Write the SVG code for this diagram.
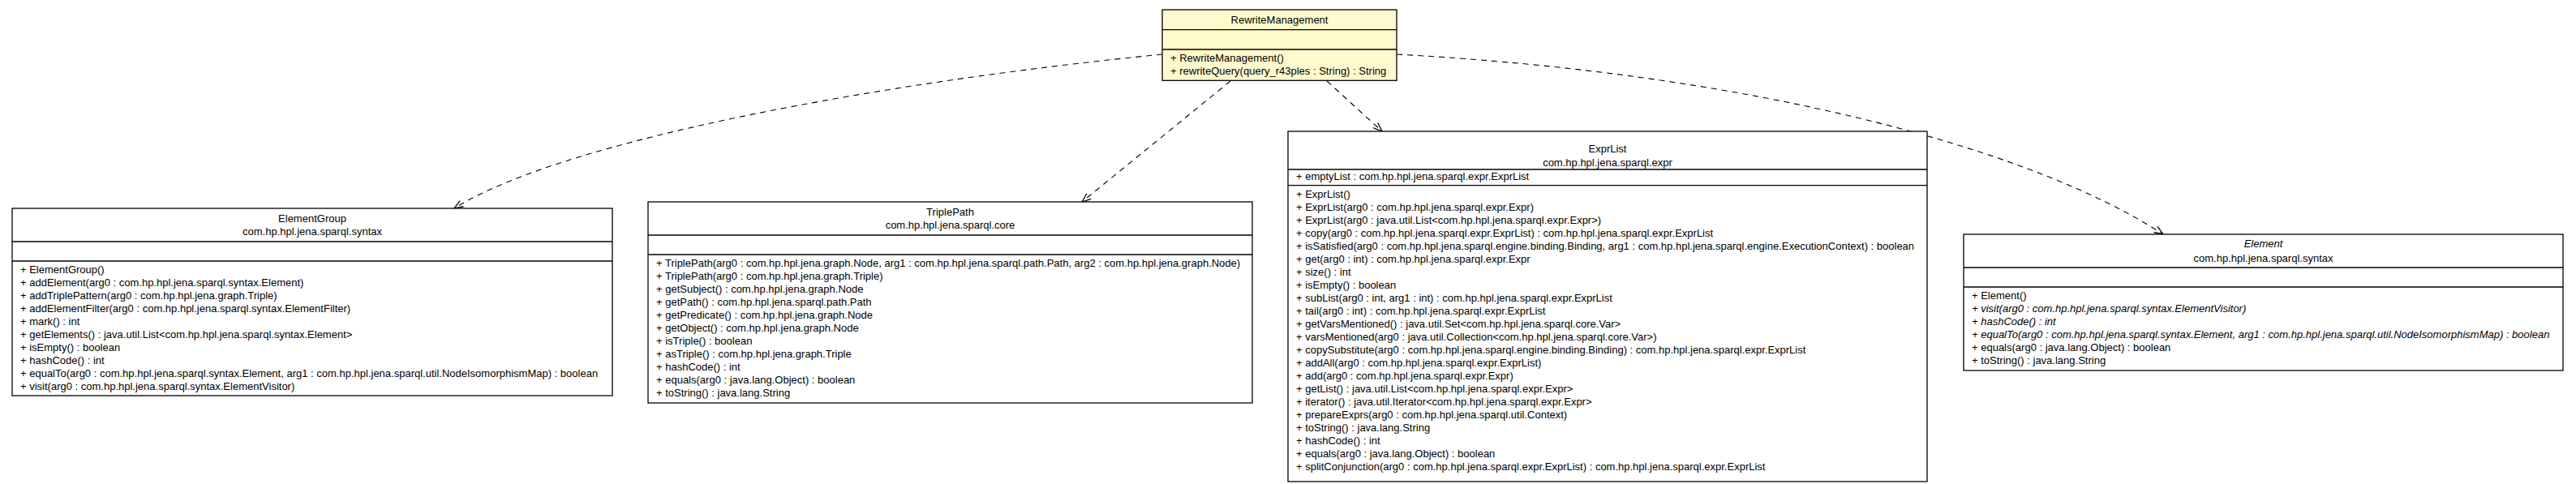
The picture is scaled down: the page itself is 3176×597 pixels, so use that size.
<svg xmlns="http://www.w3.org/2000/svg" width="3176" height="597" viewBox="0 0 3176 597">
<defs>
<style>
.box{fill:#ffffff;stroke:#000000;stroke-width:1.3}
.focus{fill:#fffacd;stroke:#000000;stroke-width:1.3}
.div{stroke:#000000;stroke-width:1.3}
text{font-family:"Liberation Sans",Arial,Helvetica,sans-serif;font-size:13px;fill:#000000}
.c{text-anchor:middle}
.i{font-style:italic}
.dep{fill:none;stroke:#000000;stroke-width:1.1;stroke-dasharray:7,6;marker-end:url(#open)}
</style>
<marker id="open" viewBox="0 0 12 10" refX="11.5" refY="5" markerWidth="12" markerHeight="10" markerUnits="userSpaceOnUse" orient="auto">
<path d="M0.5,0.8 L11.5,5 L0.5,9.2" fill="none" stroke="#000000" stroke-width="1.3"/>
</marker>
</defs>
<rect width="3176" height="597" fill="#ffffff"/>

<g id="connectors">
<path class="dep" d="M1433,67 C1100,100 700,170 560,257"/>
<path class="dep" d="M1517,100 L1334,249"/>
<path class="dep" d="M1636,100 L1704,162"/>
<path class="dep" d="M1722,67 C2150,90 2500,180 2667,289"/>
</g>

<g id="RewriteManagement">
<rect class="focus" x="1433" y="12" width="289" height="87.3"/>
<line class="div" x1="1433" y1="36.7" x2="1722" y2="36.7"/>
<line class="div" x1="1433" y1="61" x2="1722" y2="61"/>
<text class="c" x="1577.5" y="28.6">RewriteManagement</text>
<text x="1443" y="75.6">+ RewriteManagement()</text>
<text x="1443" y="91.9">+ rewriteQuery(query_r43ples : String) : String</text>
</g>

<g id="ElementGroup">
<rect class="box" x="15" y="257" width="740" height="231"/>
<line class="div" x1="15" y1="298" x2="755" y2="298"/>
<line class="div" x1="15" y1="322" x2="755" y2="322"/>
<text class="c" x="385" y="273.6">ElementGroup</text>
<text class="c" x="385" y="289.6">com.hp.hpl.jena.sparql.syntax</text>
<text x="25" y="336.6">+ ElementGroup()</text>
<text x="25" y="352.6">+ addElement(arg0 : com.hp.hpl.jena.sparql.syntax.Element)</text>
<text x="25" y="368.6">+ addTriplePattern(arg0 : com.hp.hpl.jena.graph.Triple)</text>
<text x="25" y="384.6">+ addElementFilter(arg0 : com.hp.hpl.jena.sparql.syntax.ElementFilter)</text>
<text x="25" y="400.6">+ mark() : int</text>
<text x="25" y="416.6">+ getElements() : java.util.List&lt;com.hp.hpl.jena.sparql.syntax.Element&gt;</text>
<text x="25" y="432.6">+ isEmpty() : boolean</text>
<text x="25" y="448.6">+ hashCode() : int</text>
<text x="25" y="464.6">+ equalTo(arg0 : com.hp.hpl.jena.sparql.syntax.Element, arg1 : com.hp.hpl.jena.sparql.util.NodeIsomorphismMap) : boolean</text>
<text x="25" y="480.6">+ visit(arg0 : com.hp.hpl.jena.sparql.syntax.ElementVisitor)</text>
</g>

<g id="TriplePath">
<rect class="box" x="799" y="249" width="745" height="248"/>
<line class="div" x1="799" y1="290" x2="1544" y2="290"/>
<line class="div" x1="799" y1="314" x2="1544" y2="314"/>
<text class="c" x="1171.5" y="266.3">TriplePath</text>
<text class="c" x="1171.5" y="281.5">com.hp.hpl.jena.sparql.core</text>
<text x="809" y="329">+ TriplePath(arg0 : com.hp.hpl.jena.graph.Node, arg1 : com.hp.hpl.jena.sparql.path.Path, arg2 : com.hp.hpl.jena.graph.Node)</text>
<text x="809" y="345">+ TriplePath(arg0 : com.hp.hpl.jena.graph.Triple)</text>
<text x="809" y="361">+ getSubject() : com.hp.hpl.jena.graph.Node</text>
<text x="809" y="377">+ getPath() : com.hp.hpl.jena.sparql.path.Path</text>
<text x="809" y="393">+ getPredicate() : com.hp.hpl.jena.graph.Node</text>
<text x="809" y="409">+ getObject() : com.hp.hpl.jena.graph.Node</text>
<text x="809" y="425">+ isTriple() : boolean</text>
<text x="809" y="441">+ asTriple() : com.hp.hpl.jena.graph.Triple</text>
<text x="809" y="457">+ hashCode() : int</text>
<text x="809" y="473">+ equals(arg0 : java.lang.Object) : boolean</text>
<text x="809" y="489">+ toString() : java.lang.String</text>
</g>

<g id="ExprList">
<rect class="box" x="1588" y="162" width="788" height="432"/>
<line class="div" x1="1588" y1="209" x2="2376" y2="209"/>
<line class="div" x1="1588" y1="228.7" x2="2376" y2="228.7"/>
<text class="c" x="1982" y="187.9">ExprList</text>
<text class="c" x="1982" y="204.6">com.hp.hpl.jena.sparql.expr</text>
<text x="1598" y="222.3">+ emptyList : com.hp.hpl.jena.sparql.expr.ExprList</text>
<text x="1598" y="243.9">+ ExprList()</text>
<text x="1598" y="259.9">+ ExprList(arg0 : com.hp.hpl.jena.sparql.expr.Expr)</text>
<text x="1598" y="275.9">+ ExprList(arg0 : java.util.List&lt;com.hp.hpl.jena.sparql.expr.Expr&gt;)</text>
<text x="1598" y="291.9">+ copy(arg0 : com.hp.hpl.jena.sparql.expr.ExprList) : com.hp.hpl.jena.sparql.expr.ExprList</text>
<text x="1598" y="307.9">+ isSatisfied(arg0 : com.hp.hpl.jena.sparql.engine.binding.Binding, arg1 : com.hp.hpl.jena.sparql.engine.ExecutionContext) : boolean</text>
<text x="1598" y="323.9">+ get(arg0 : int) : com.hp.hpl.jena.sparql.expr.Expr</text>
<text x="1598" y="339.9">+ size() : int</text>
<text x="1598" y="355.9">+ isEmpty() : boolean</text>
<text x="1598" y="371.9">+ subList(arg0 : int, arg1 : int) : com.hp.hpl.jena.sparql.expr.ExprList</text>
<text x="1598" y="387.9">+ tail(arg0 : int) : com.hp.hpl.jena.sparql.expr.ExprList</text>
<text x="1598" y="403.9">+ getVarsMentioned() : java.util.Set&lt;com.hp.hpl.jena.sparql.core.Var&gt;</text>
<text x="1598" y="419.9">+ varsMentioned(arg0 : java.util.Collection&lt;com.hp.hpl.jena.sparql.core.Var&gt;)</text>
<text x="1598" y="435.9">+ copySubstitute(arg0 : com.hp.hpl.jena.sparql.engine.binding.Binding) : com.hp.hpl.jena.sparql.expr.ExprList</text>
<text x="1598" y="451.9">+ addAll(arg0 : com.hp.hpl.jena.sparql.expr.ExprList)</text>
<text x="1598" y="467.9">+ add(arg0 : com.hp.hpl.jena.sparql.expr.Expr)</text>
<text x="1598" y="483.9">+ getList() : java.util.List&lt;com.hp.hpl.jena.sparql.expr.Expr&gt;</text>
<text x="1598" y="499.9">+ iterator() : java.util.Iterator&lt;com.hp.hpl.jena.sparql.expr.Expr&gt;</text>
<text x="1598" y="515.9">+ prepareExprs(arg0 : com.hp.hpl.jena.sparql.util.Context)</text>
<text x="1598" y="531.9">+ toString() : java.lang.String</text>
<text x="1598" y="547.9">+ hashCode() : int</text>
<text x="1598" y="563.9">+ equals(arg0 : java.lang.Object) : boolean</text>
<text x="1598" y="579.9">+ splitConjunction(arg0 : com.hp.hpl.jena.sparql.expr.ExprList) : com.hp.hpl.jena.sparql.expr.ExprList</text>
</g>

<g id="Element">
<rect class="box" x="2421" y="289" width="739" height="168"/>
<line class="div" x1="2421" y1="330" x2="3160" y2="330"/>
<line class="div" x1="2421" y1="354" x2="3160" y2="354"/>
<text class="c i" x="2790.5" y="304.6">Element</text>
<text class="c" x="2790.5" y="322.9">com.hp.hpl.jena.sparql.syntax</text>
<text x="2431" y="368.9">+ Element()</text>
<text class="i" x="2431" y="384.9">+ visit(arg0 : com.hp.hpl.jena.sparql.syntax.ElementVisitor)</text>
<text class="i" x="2431" y="400.9">+ hashCode() : int</text>
<text class="i" x="2431" y="416.9">+ equalTo(arg0 : com.hp.hpl.jena.sparql.syntax.Element, arg1 : com.hp.hpl.jena.sparql.util.NodeIsomorphismMap) : boolean</text>
<text x="2431" y="432.9">+ equals(arg0 : java.lang.Object) : boolean</text>
<text x="2431" y="448.9">+ toString() : java.lang.String</text>
</g>
</svg>
